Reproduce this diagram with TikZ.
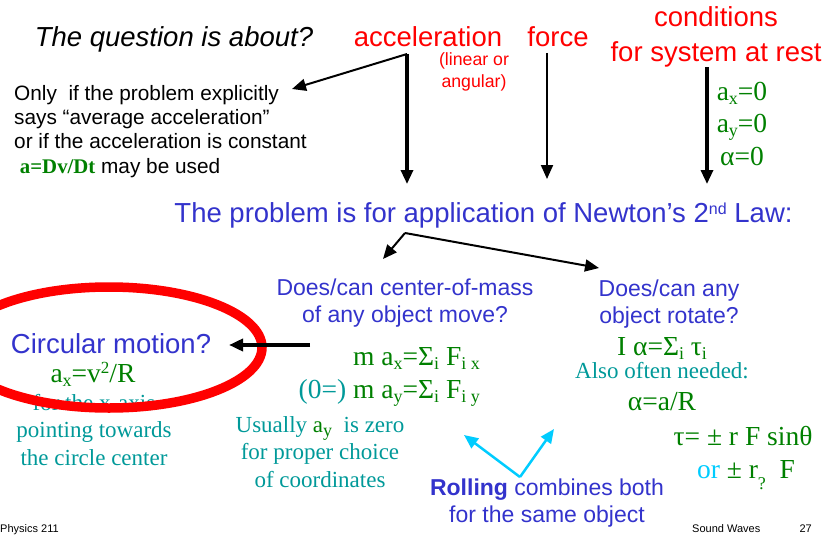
\documentclass[tikz,border=0pt]{standalone}
\usepackage{fontspec}
\setmainfont{Liberation Serif}
\setsansfont{Liberation Sans}
\usetikzlibrary{arrows.meta}

\definecolor{hdred}{RGB}{255,0,0}
\definecolor{qblue}{RGB}{51,51,204}
\definecolor{eqgreen}{RGB}{0,128,0}
\definecolor{notecyan}{RGB}{0,153,153}
\definecolor{rollcyan}{RGB}{0,204,255}
\newcommand{\lsub}[2][-4pt]{\raisebox{#1}{\fontsize{18}{18}\selectfont #2}}

\begin{document}
\begin{tikzpicture}[x=1pt,y=-1pt,
        every node/.style={inner sep=0pt, anchor=base, align=center},
        title/.style={font=\sffamily\fontsize{27.5}{35}\selectfont},
        small/.style={font=\sffamily\fontsize{17.7}{22}\selectfont},
        sub/.style={font=\sffamily\fontsize{23}{27}\selectfont, text=qblue},
        note/.style={font=\sffamily\fontsize{20.8}{24.3}\selectfont},
        formula/.style={font=\rmfamily\fontsize{27.5}{32.5}\selectfont, text=eqgreen},
        remark/.style={font=\rmfamily\fontsize{23}{27.5}\selectfont, text=notecyan},
        foot/.style={font=\sffamily\fontsize{11}{13}\selectfont},
        arr/.style={-{Triangle[length=14pt,width=12pt]}, line width=2pt},
        bigarr/.style={arr, line width=3.2pt}]
        \useasboundingbox (0,0) rectangle (837,535);

        \node[title] (quest) at (174,47) {\itshape The question is about?};
        \node[title, text=hdred] (acc) at (428,47) {acceleration};
        \node[small, text=hdred] (lin) at (474,87) {(linear or\\angular)};
        \node[title, text=hdred] (force) at (558,47) {force};
        \node[title, text=hdred] (rest) at (716,62) {conditions\\for system at rest};
        \node[formula] (static) at (742,165) {a\lsub{x}=0\\a\lsub{y}=0\\α=0};

        \node[note, anchor=base west, align=left] (only) at (14,173)
            {Only~ if the problem explicitly\\says “average acceleration”\\or if the acceleration is constant\\
            \ \textcolor{eqgreen}{\rmfamily\bfseries a=Dv/Dt} may be used};

        \node[title, text=qblue] (newton) at (483.5,222)
            {The problem is for application of Newton’s 2\raisebox{8pt}{\fontsize{16}{16}\selectfont nd} Law:};

        \node[sub] (cm) at (405,322) {Does/can center-of-mass\\of any object move?};
        \node[sub] (rot) at (669,323) {Does/can any\\object rotate?};

        \node[remark] (axis) at (94,465) {for the x-axis\\pointing towards\\the circle center};
        \draw[hdred, line width=9.5pt] (109,347.5) ellipse [x radius=153, y radius=60.5];
        \node[title, text=qblue] (circ) at (111,353) {Circular motion?};
        \node[formula] (cent) at (93,382) {a\lsub{x}=v\raisebox{9pt}{\fontsize{17}{17}\selectfont 2}/R};

        \node[formula, anchor=base east] (eqx) at (480,365)
            {m a\lsub{x}=Σ\lsub{i} F\lsub{i x}};
        \node[formula, anchor=base east] (eqy) at (480,398)
            {\textcolor{notecyan}{(0=)} m a\lsub{y}=Σ\lsub{i} F\lsub{i y}};
        \node[remark] (usual) at (320,487)
            {Usually \textcolor{eqgreen}{a\lsub[-4pt]{y}} ~is zero\\for proper choice\\of coordinates};

        \node[formula] (torq) at (662,355) {I α=Σ\lsub{i} τ\lsub{i}};
        \node[remark] (also) at (662,378) {Also often needed:};
        \node[formula] (rollcond) at (662,410) {α=a/R};
        \node[formula] (tau) at (743,445) {τ= ± r F sinθ};
        \node[formula] (perp) at (746,478) {\textcolor{rollcyan}{or} ± r\lsub[-11pt]{?} ~F};

        \node[sub] (both) at (547,522) {\textbf{Rolling} combines both\\for the same object};

        \node[foot, anchor=base west] (course) at (0,532) {Physics 211};
        \node[foot, anchor=base west] (topic) at (692,532) {Sound Waves};
        \node[foot, anchor=base east] (page) at (812,532) {27};

        \coordinate (accfoot) at (407,54);
        \coordinate (acchead) at (407,184);
        \coordinate (onlyhead) at (292,89);
        \coordinate (forcefoot) at (547,53);
        \coordinate (forcehead) at (547,179);
        \coordinate (restfoot) at (707,67);
        \coordinate (resthead) at (707,184);
        \coordinate (fork) at (405,233);
        \coordinate (cmhead) at (383,259);
        \coordinate (rothead) at (599,268);
        \coordinate (circfoot) at (310,345);
        \coordinate (circhead) at (229,345);
        \coordinate (rollfoot) at (520,477);
        \coordinate (cmroll) at (464,435);
        \coordinate (rotroll) at (554,429);

        \draw[bigarr] (accfoot) -- (acchead);
        \draw[arr] (accfoot) -- (onlyhead);
        \draw[arr] (forcefoot) -- (forcehead);
        \draw[bigarr] (restfoot) -- (resthead);
        \draw[arr] (fork) -- (cmhead);
        \draw[arr] (fork) -- (rothead);
        \draw[bigarr, line width=4pt] (circfoot) -- (circhead);
        \draw[arr, rollcyan, line width=2.5pt] (rollfoot) -- (cmroll);
        \draw[arr, rollcyan, line width=2.5pt] (rollfoot) -- (rotroll);
\end{tikzpicture}
\end{document}
